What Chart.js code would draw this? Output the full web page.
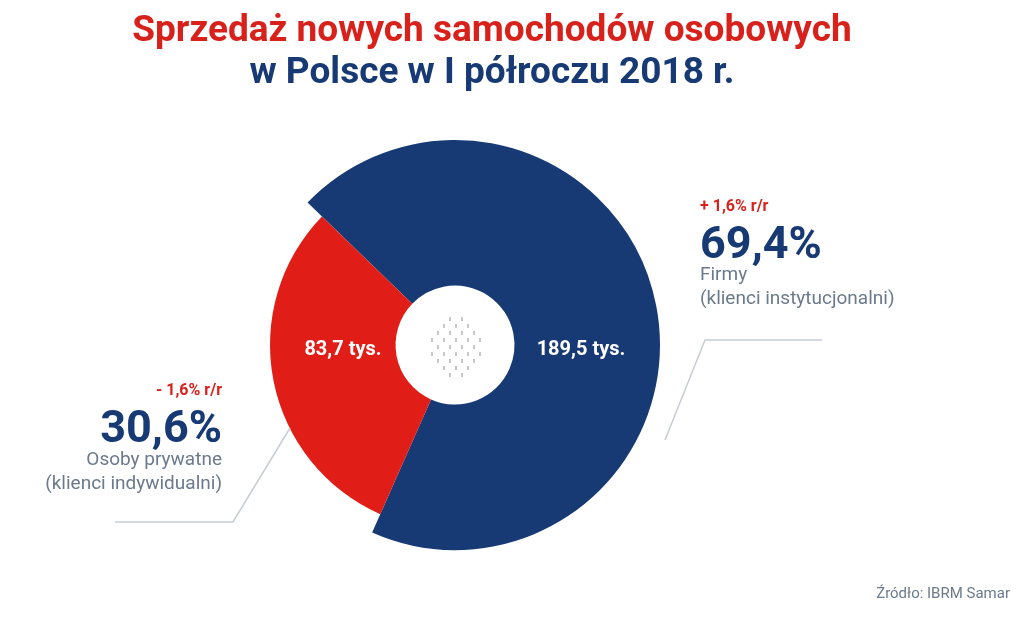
<!DOCTYPE html>
<html><head><meta charset="utf-8">
<script src="https://cdn.jsdelivr.net/npm/chart.js@4.4.1/dist/chart.umd.min.js"></script>
<style>
body{margin:0;width:1024px;height:621px;background:#fff;font-family:Roboto,"Open Sans",sans-serif;position:relative;overflow:hidden}
#c{position:absolute;left:0;top:0}
.t{position:absolute;white-space:nowrap}
</style></head><body>
<canvas id="c" width="1024" height="621"></canvas>
<div class="t" style="left:0;width:984px;text-align:center;top:8px;font-size:37px;font-weight:bold;color:#d9211c;line-height:42px">Sprzedaż nowych samochodów osobowych</div>
<div class="t" style="left:0;width:984px;text-align:center;top:50px;font-size:37px;font-weight:bold;color:#173a75;line-height:42px">w Polsce w I półroczu 2018 r.</div>
<div class="t" style="left:700px;top:196px;font-size:16px;font-weight:bold;color:#d9211c">+ 1,6% r/r</div>
<div class="t" style="left:700px;top:216px;font-size:45px;font-weight:bold;color:#173a75">69,4%</div>
<div class="t" style="left:700px;top:262px;font-size:19px;color:#6b7a8c;line-height:24px">Firmy<br>(klienci instytucjonalni)</div>
<div class="t" style="right:802px;top:380px;font-size:16px;font-weight:bold;color:#d9211c;text-align:right">- 1,6% r/r</div>
<div class="t" style="right:802px;top:400px;font-size:45px;font-weight:bold;color:#173a75;text-align:right">30,6%</div>
<div class="t" style="right:802px;top:447px;font-size:19px;color:#6b7a8c;line-height:24px;text-align:right">Osoby prywatne<br>(klienci indywidualni)</div>
<div class="t" style="right:14px;top:584px;font-size:15px;color:#6b7a8c">Źródło: IBRM Samar</div>
<script>
const categories=["Firmy (klienci instytucjonalni)","Osoby prywatne (klienci indywidualni)"];
const shares=[69.4,30.6];
const sliceLabels=["189,5 tys.","83,7 tys."];
const colors=["#173a75","#e11d17"];
const plug={id:'p',
 beforeDatasetDraw(ch){const a=ch.getDatasetMeta(0).data[1];a.outerRadius=a.outerRadius-20;},
 afterDraw(ch){const c=ch.ctx;const m=ch.getDatasetMeta(0);
  c.save();c.fillStyle='#fff';c.font='bold 20px Roboto';c.textAlign='center';c.textBaseline='middle';
  c.fillText(sliceLabels[0],581,350);c.fillText(sliceLabels[1],343,350);
  c.strokeStyle='#c7ccd3';c.lineWidth=1.5;c.beginPath();
  c.moveTo(115,522);c.lineTo(233,522);c.lineTo(290,428);
  c.moveTo(822,340);c.lineTo(705,340);c.lineTo(665,440);c.stroke();
  c.fillStyle='#c8c8cc';const x=m.data[0].x,y=m.data[0].y;
  for(let i=-5;i<=5;i++){for(let j=-5;j<=5;j++){const px=x+i*6,py=y+j*7;if(Math.hypot(i*6,j*7)<30&&((i+j)&1)){c.fillRect(px,py,2,4);}}}
  c.restore();}};
new Chart(document.getElementById('c'),{type:'doughnut',
 data:{labels:categories,datasets:[{data:shares,backgroundColor:colors,borderWidth:0}]},
 options:{responsive:false,animation:false,rotation:314,cutout:'29%',
  layout:{padding:{left:250,right:364,top:140,bottom:71}},
  plugins:{legend:{display:false},tooltip:{enabled:false}}},
 plugins:[plug]});
</script>
</body></html>
